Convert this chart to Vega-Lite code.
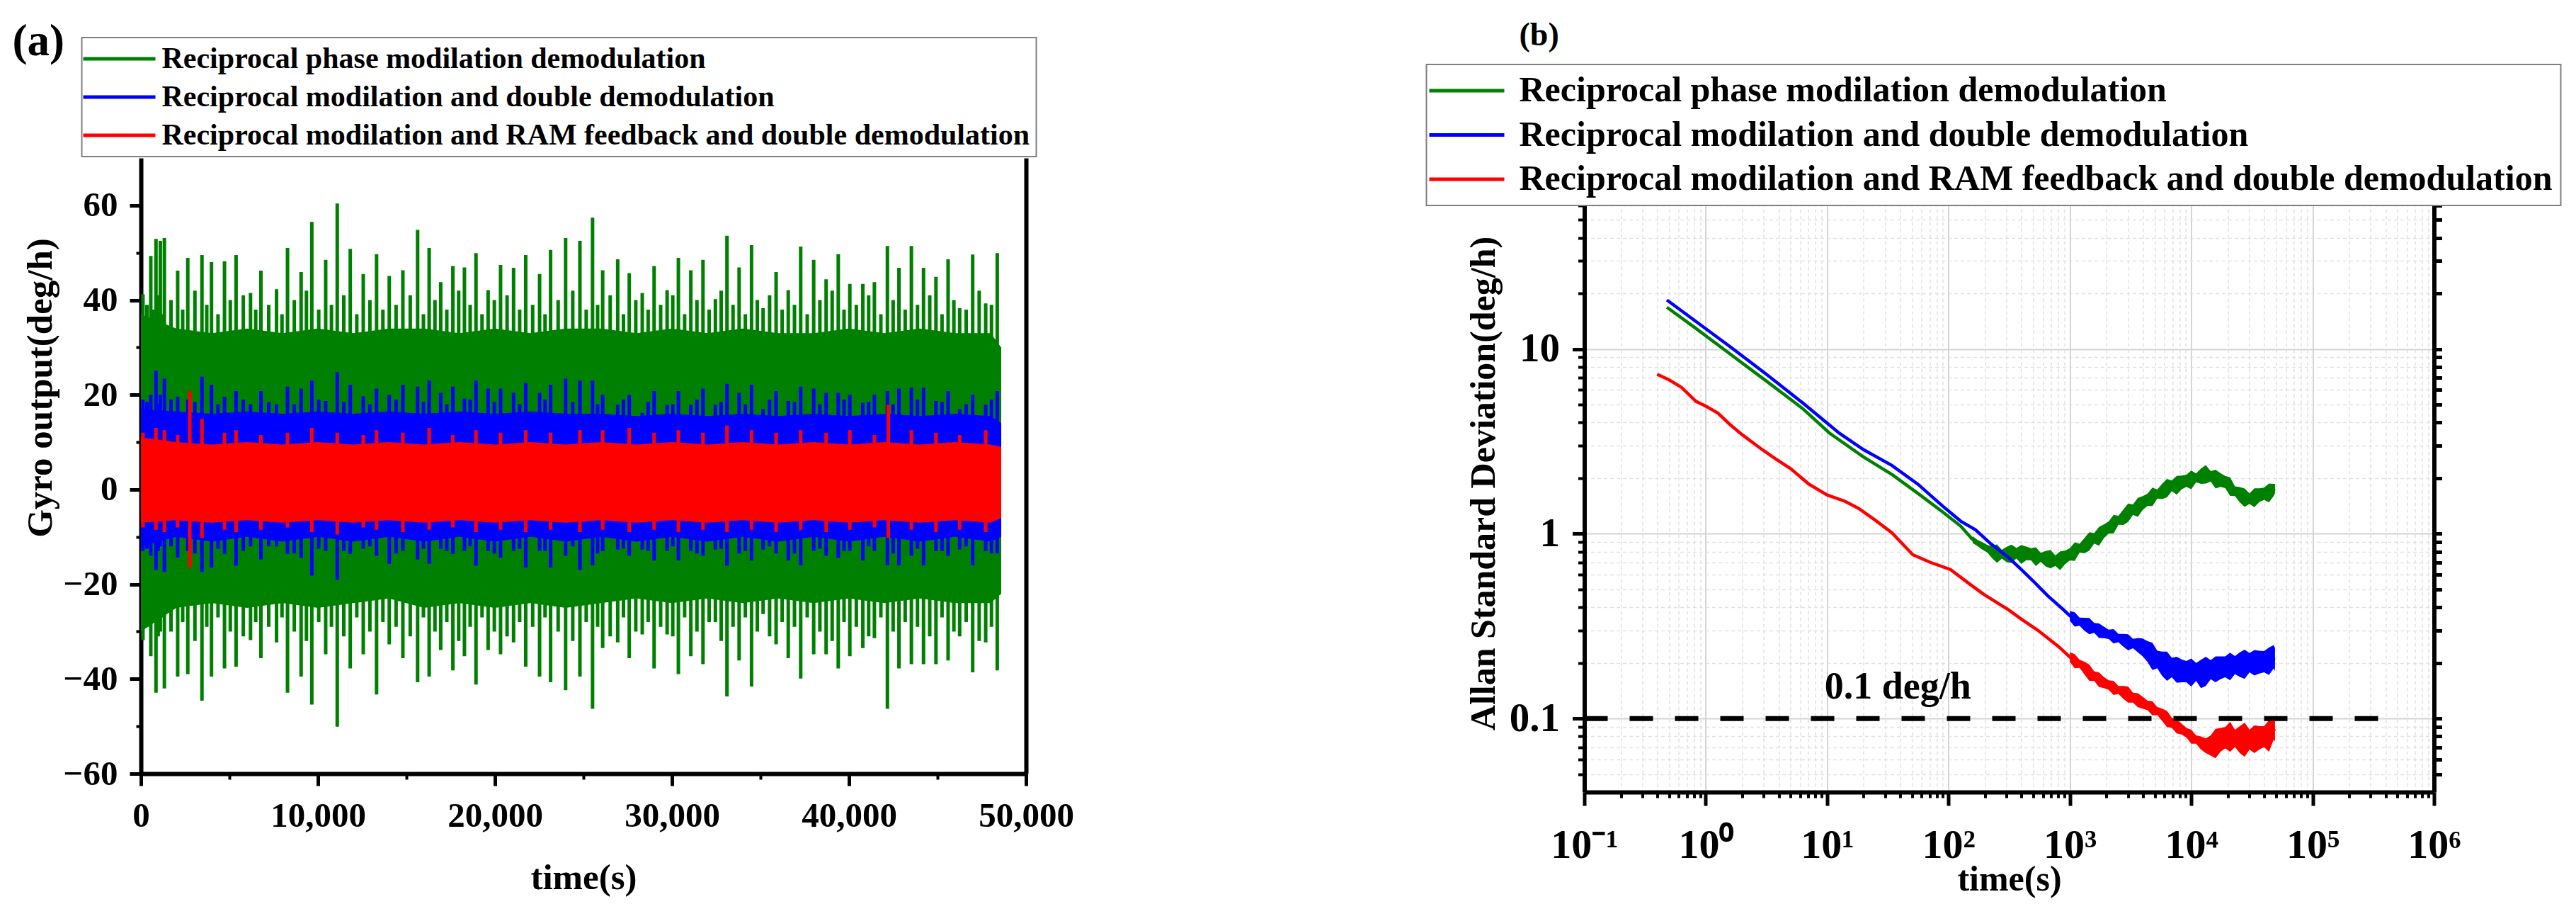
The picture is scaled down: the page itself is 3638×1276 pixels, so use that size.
{
  "$schema": "https://vega.github.io/schema/vega-lite/v6.json",
  "background": "white",
  "padding": {"left": 17, "top": 27, "right": 5, "bottom": 5},
  "bounds": "flush",
  "spacing": 788.5,
  "config": {
    "view": {"stroke": null},
    "font": "Liberation Serif",
    "axis": {
      "labelFont": "Liberation Serif", "labelFontWeight": "bold", "labelColor": "black",
      "titleFont": "Liberation Serif", "titleFontWeight": "bold", "titleColor": "black",
      "domainColor": "black", "domainWidth": 6, "tickColor": "black",
      "grid": false, "labelFlush": false, "labelOverlap": false
    },
    "legend": {
      "labelFont": "Liberation Serif", "labelFontWeight": "bold", "labelColor": "black",
      "labelLimit": 3000, "strokeColor": "#7f7f7f", "strokeWidth": 2, "fillColor": "white",
      "symbolStrokeWidth": 5, "symbolSize": 400
    },
    "title": {
      "font": "Liberation Serif", "fontWeight": "bold", "color": "black",
      "anchor": "start", "frame": "group", "offset": 0, "baseline": "alphabetic"
    }
  },
  "resolve": {"scale": {"stroke": "independent"}, "legend": {"stroke": "independent"}},
  "datasets": {
    "core": [
      {"s": "phase", "t": 0, "lo": -30, "hi": 37},
      {"s": "phase", "t": 2000, "lo": -25, "hi": 34},
      {"s": "phase", "t": 4000, "lo": -24, "hi": 33},
      {"s": "phase", "t": 6000, "lo": -25, "hi": 34},
      {"s": "phase", "t": 8000, "lo": -24, "hi": 33},
      {"s": "phase", "t": 10000, "lo": -25, "hi": 34},
      {"s": "phase", "t": 12000, "lo": -24, "hi": 33},
      {"s": "phase", "t": 14000, "lo": -23, "hi": 34},
      {"s": "phase", "t": 16000, "lo": -25, "hi": 34},
      {"s": "phase", "t": 18000, "lo": -24, "hi": 33},
      {"s": "phase", "t": 20000, "lo": -25, "hi": 34},
      {"s": "phase", "t": 22000, "lo": -24, "hi": 33},
      {"s": "phase", "t": 24000, "lo": -25, "hi": 34},
      {"s": "phase", "t": 26000, "lo": -24, "hi": 34},
      {"s": "phase", "t": 28000, "lo": -23, "hi": 33},
      {"s": "phase", "t": 30000, "lo": -24, "hi": 34},
      {"s": "phase", "t": 32000, "lo": -23, "hi": 33},
      {"s": "phase", "t": 34000, "lo": -24, "hi": 34},
      {"s": "phase", "t": 36000, "lo": -23, "hi": 33},
      {"s": "phase", "t": 38000, "lo": -24, "hi": 33},
      {"s": "phase", "t": 40000, "lo": -23, "hi": 34},
      {"s": "phase", "t": 42000, "lo": -24, "hi": 33},
      {"s": "phase", "t": 44000, "lo": -23, "hi": 34},
      {"s": "phase", "t": 46000, "lo": -24, "hi": 33},
      {"s": "phase", "t": 48000, "lo": -24, "hi": 33},
      {"s": "phase", "t": 48600, "lo": -22, "hi": 30},
      {"s": "double", "t": 0, "lo": -12, "hi": 17},
      {"s": "double", "t": 2000, "lo": -10, "hi": 16.5},
      {"s": "double", "t": 4000, "lo": -11, "hi": 16},
      {"s": "double", "t": 6000, "lo": -10, "hi": 16.5},
      {"s": "double", "t": 8000, "lo": -11, "hi": 16},
      {"s": "double", "t": 10000, "lo": -10, "hi": 16.5},
      {"s": "double", "t": 12000, "lo": -11, "hi": 16},
      {"s": "double", "t": 14000, "lo": -10, "hi": 16.5},
      {"s": "double", "t": 16000, "lo": -11, "hi": 16},
      {"s": "double", "t": 18000, "lo": -10, "hi": 16.5},
      {"s": "double", "t": 20000, "lo": -11, "hi": 16},
      {"s": "double", "t": 22000, "lo": -10, "hi": 16.5},
      {"s": "double", "t": 24000, "lo": -11, "hi": 16},
      {"s": "double", "t": 26000, "lo": -10, "hi": 16},
      {"s": "double", "t": 28000, "lo": -11, "hi": 15.5},
      {"s": "double", "t": 30000, "lo": -10, "hi": 16},
      {"s": "double", "t": 32000, "lo": -11, "hi": 15.5},
      {"s": "double", "t": 34000, "lo": -10, "hi": 16},
      {"s": "double", "t": 36000, "lo": -11, "hi": 15.5},
      {"s": "double", "t": 38000, "lo": -10, "hi": 16},
      {"s": "double", "t": 40000, "lo": -11, "hi": 15.5},
      {"s": "double", "t": 42000, "lo": -10, "hi": 16},
      {"s": "double", "t": 44000, "lo": -11, "hi": 15.5},
      {"s": "double", "t": 46000, "lo": -10, "hi": 16},
      {"s": "double", "t": 48000, "lo": -11, "hi": 15.5},
      {"s": "double", "t": 48600, "lo": -10, "hi": 14},
      {"s": "ram", "t": 0, "lo": -7, "hi": 11},
      {"s": "ram", "t": 2000, "lo": -6.5, "hi": 10},
      {"s": "ram", "t": 4000, "lo": -7, "hi": 9.5},
      {"s": "ram", "t": 6000, "lo": -6.5, "hi": 10},
      {"s": "ram", "t": 8000, "lo": -7, "hi": 9.5},
      {"s": "ram", "t": 10000, "lo": -6.5, "hi": 10},
      {"s": "ram", "t": 12000, "lo": -7, "hi": 9.5},
      {"s": "ram", "t": 14000, "lo": -6.5, "hi": 10},
      {"s": "ram", "t": 16000, "lo": -7, "hi": 9.5},
      {"s": "ram", "t": 18000, "lo": -6.5, "hi": 10},
      {"s": "ram", "t": 20000, "lo": -7, "hi": 9.5},
      {"s": "ram", "t": 22000, "lo": -6.5, "hi": 10},
      {"s": "ram", "t": 24000, "lo": -7, "hi": 9.5},
      {"s": "ram", "t": 26000, "lo": -6.5, "hi": 10},
      {"s": "ram", "t": 28000, "lo": -7, "hi": 9.5},
      {"s": "ram", "t": 30000, "lo": -6.5, "hi": 10},
      {"s": "ram", "t": 32000, "lo": -7, "hi": 9.5},
      {"s": "ram", "t": 34000, "lo": -6.5, "hi": 10},
      {"s": "ram", "t": 36000, "lo": -7, "hi": 9.5},
      {"s": "ram", "t": 38000, "lo": -6.5, "hi": 10},
      {"s": "ram", "t": 40000, "lo": -7, "hi": 9.5},
      {"s": "ram", "t": 42000, "lo": -6.5, "hi": 10},
      {"s": "ram", "t": 44000, "lo": -7, "hi": 9.5},
      {"s": "ram", "t": 46000, "lo": -6.5, "hi": 10},
      {"s": "ram", "t": 48000, "lo": -7, "hi": 9.5},
      {"s": "ram", "t": 48600, "lo": -6, "hi": 9}
    ],
    "spikes": [
      {"s": "phase", "t": 117, "lo": -31.8, "hi": 41.2},
      {"s": "phase", "t": 558, "lo": -35.2, "hi": 49.3},
      {"s": "phase", "t": 852, "lo": -42.9, "hi": 52.9},
      {"s": "phase", "t": 1097, "lo": -30, "hi": 52.5},
      {"s": "phase", "t": 1326, "lo": -42, "hi": 53.1},
      {"s": "phase", "t": 2077, "lo": -39.5, "hi": 46.2},
      {"s": "phase", "t": 2648, "lo": -39, "hi": 48.9},
      {"s": "phase", "t": 3449, "lo": -44.6, "hi": 49.5},
      {"s": "phase", "t": 3987, "lo": -39.5, "hi": 48},
      {"s": "phase", "t": 4722, "lo": -37.8, "hi": 48.2},
      {"s": "phase", "t": 5376, "lo": -37.4, "hi": 49.5},
      {"s": "phase", "t": 6192, "lo": -31.8, "hi": 41.5},
      {"s": "phase", "t": 6780, "lo": -35.6, "hi": 46.2},
      {"s": "phase", "t": 7662, "lo": -32.3, "hi": 42.3},
      {"s": "phase", "t": 8282, "lo": -42.9, "hi": 51},
      {"s": "phase", "t": 9050, "lo": -39.5, "hi": 45.9},
      {"s": "phase", "t": 9654, "lo": -45.4, "hi": 56.5},
      {"s": "phase", "t": 10438, "lo": -34.8, "hi": 48.5},
      {"s": "phase", "t": 11091, "lo": -50.1, "hi": 60.4},
      {"s": "phase", "t": 11826, "lo": -37.8, "hi": 50.8},
      {"s": "phase", "t": 12561, "lo": -34.8, "hi": 45.5},
      {"s": "phase", "t": 13312, "lo": -43.3, "hi": 49.7},
      {"s": "phase", "t": 14030, "lo": -32.7, "hi": 45.1},
      {"s": "phase", "t": 14798, "lo": -35.6, "hi": 46.3},
      {"s": "phase", "t": 15631, "lo": -40.7, "hi": 54.8},
      {"s": "phase", "t": 16284, "lo": -39.5, "hi": 51},
      {"s": "phase", "t": 16937, "lo": -33.9, "hi": 43.8},
      {"s": "phase", "t": 17623, "lo": -38.2, "hi": 47.2},
      {"s": "phase", "t": 18276, "lo": -35.2, "hi": 46.9},
      {"s": "phase", "t": 18929, "lo": -41.2, "hi": 49.9},
      {"s": "phase", "t": 19615, "lo": -33.9, "hi": 42.1},
      {"s": "phase", "t": 20317, "lo": -34.8, "hi": 47.4},
      {"s": "phase", "t": 21052, "lo": -32.3, "hi": 46.8},
      {"s": "phase", "t": 21738, "lo": -37.4, "hi": 49.5},
      {"s": "phase", "t": 22522, "lo": -39.5, "hi": 45.5},
      {"s": "phase", "t": 23143, "lo": -40.7, "hi": 50.6},
      {"s": "phase", "t": 23992, "lo": -42.4, "hi": 53.1},
      {"s": "phase", "t": 24800, "lo": -39.5, "hi": 52.5},
      {"s": "phase", "t": 25513, "lo": -46.3, "hi": 57.4},
      {"s": "phase", "t": 26085, "lo": -33.5, "hi": 46.3},
      {"s": "phase", "t": 26934, "lo": -32.3, "hi": 48.6},
      {"s": "phase", "t": 27587, "lo": -35.6, "hi": 45.7},
      {"s": "phase", "t": 28322, "lo": -30.6, "hi": 41.5},
      {"s": "phase", "t": 28991, "lo": -37.8, "hi": 47.2},
      {"s": "phase", "t": 29726, "lo": -30.6, "hi": 42.1},
      {"s": "phase", "t": 30363, "lo": -39, "hi": 48.9},
      {"s": "phase", "t": 31065, "lo": -35.2, "hi": 46.3},
      {"s": "phase", "t": 31751, "lo": -36.9, "hi": 48.5},
      {"s": "phase", "t": 32453, "lo": -28, "hi": 40.2},
      {"s": "phase", "t": 33107, "lo": -43.7, "hi": 53.6},
      {"s": "phase", "t": 33793, "lo": -36.1, "hi": 46.9},
      {"s": "phase", "t": 34495, "lo": -41.6, "hi": 51.6},
      {"s": "phase", "t": 35148, "lo": -26.3, "hi": 38.3},
      {"s": "phase", "t": 35883, "lo": -32.7, "hi": 45.9},
      {"s": "phase", "t": 36569, "lo": -35.6, "hi": 42.1},
      {"s": "phase", "t": 37271, "lo": -39.9, "hi": 51.3},
      {"s": "phase", "t": 38006, "lo": -34.8, "hi": 48.5},
      {"s": "phase", "t": 38708, "lo": -34.8, "hi": 44.4},
      {"s": "phase", "t": 39394, "lo": -37.8, "hi": 49.7},
      {"s": "phase", "t": 40047, "lo": -35.2, "hi": 43.4},
      {"s": "phase", "t": 40782, "lo": -33.5, "hi": 43.4},
      {"s": "phase", "t": 41435, "lo": -31.4, "hi": 43.8},
      {"s": "phase", "t": 42170, "lo": -46.3, "hi": 51.4},
      {"s": "phase", "t": 42823, "lo": -37.8, "hi": 46.8},
      {"s": "phase", "t": 43525, "lo": -36.9, "hi": 51.4},
      {"s": "phase", "t": 44211, "lo": -36.9, "hi": 46.8},
      {"s": "phase", "t": 44913, "lo": -36.9, "hi": 44.9},
      {"s": "phase", "t": 45599, "lo": -36.1, "hi": 48.6},
      {"s": "phase", "t": 46252, "lo": -31, "hi": 38.3},
      {"s": "phase", "t": 46987, "lo": -38.6, "hi": 49.6},
      {"s": "phase", "t": 47722, "lo": -32.3, "hi": 39.3},
      {"s": "phase", "t": 48375, "lo": -38.2, "hi": 49.9},
      {"s": "phase", "t": 340, "lo": -29, "hi": 39},
      {"s": "phase", "t": 705, "lo": -28, "hi": 38},
      {"s": "phase", "t": 975, "lo": -31, "hi": 41},
      {"s": "phase", "t": 1210, "lo": -27, "hi": 37},
      {"s": "phase", "t": 1700, "lo": -30, "hi": 40},
      {"s": "phase", "t": 2360, "lo": -28, "hi": 38},
      {"s": "phase", "t": 3050, "lo": -32, "hi": 42},
      {"s": "phase", "t": 3720, "lo": -29, "hi": 39},
      {"s": "phase", "t": 4355, "lo": -27, "hi": 37},
      {"s": "phase", "t": 5050, "lo": -30, "hi": 40},
      {"s": "phase", "t": 5785, "lo": -31, "hi": 41},
      {"s": "phase", "t": 6485, "lo": -28, "hi": 38},
      {"s": "phase", "t": 7220, "lo": -29, "hi": 39},
      {"s": "phase", "t": 7970, "lo": -27, "hi": 37},
      {"s": "phase", "t": 8665, "lo": -30, "hi": 40},
      {"s": "phase", "t": 9350, "lo": -32, "hi": 42},
      {"s": "phase", "t": 10045, "lo": -28, "hi": 38},
      {"s": "phase", "t": 10765, "lo": -29, "hi": 39},
      {"s": "phase", "t": 11460, "lo": -31, "hi": 41},
      {"s": "phase", "t": 12195, "lo": -27, "hi": 37},
      {"s": "phase", "t": 12935, "lo": -30, "hi": 40},
      {"s": "phase", "t": 13670, "lo": -28, "hi": 38},
      {"s": "phase", "t": 14415, "lo": -29, "hi": 39},
      {"s": "phase", "t": 15215, "lo": -31, "hi": 41},
      {"s": "phase", "t": 15960, "lo": -27, "hi": 37},
      {"s": "phase", "t": 16610, "lo": -30, "hi": 40},
      {"s": "phase", "t": 17280, "lo": -28, "hi": 38},
      {"s": "phase", "t": 17950, "lo": -32, "hi": 42},
      {"s": "phase", "t": 18600, "lo": -29, "hi": 39},
      {"s": "phase", "t": 19270, "lo": -27, "hi": 37},
      {"s": "phase", "t": 19965, "lo": -30, "hi": 40},
      {"s": "phase", "t": 20685, "lo": -31, "hi": 41},
      {"s": "phase", "t": 21395, "lo": -28, "hi": 38},
      {"s": "phase", "t": 22130, "lo": -29, "hi": 39},
      {"s": "phase", "t": 22830, "lo": -27, "hi": 37},
      {"s": "phase", "t": 23570, "lo": -30, "hi": 40},
      {"s": "phase", "t": 24395, "lo": -32, "hi": 42},
      {"s": "phase", "t": 25155, "lo": -28, "hi": 38},
      {"s": "phase", "t": 25800, "lo": -29, "hi": 39},
      {"s": "phase", "t": 26510, "lo": -31, "hi": 41},
      {"s": "phase", "t": 27260, "lo": -27, "hi": 37},
      {"s": "phase", "t": 27955, "lo": -30, "hi": 40},
      {"s": "phase", "t": 28655, "lo": -28, "hi": 38},
      {"s": "phase", "t": 29360, "lo": -29, "hi": 39},
      {"s": "phase", "t": 30045, "lo": -31, "hi": 41},
      {"s": "phase", "t": 30715, "lo": -27, "hi": 37},
      {"s": "phase", "t": 31410, "lo": -30, "hi": 40},
      {"s": "phase", "t": 32100, "lo": -28, "hi": 38},
      {"s": "phase", "t": 32780, "lo": -32, "hi": 42},
      {"s": "phase", "t": 33450, "lo": -29, "hi": 39},
      {"s": "phase", "t": 34145, "lo": -27, "hi": 37},
      {"s": "phase", "t": 34820, "lo": -30, "hi": 40},
      {"s": "phase", "t": 35515, "lo": -31, "hi": 41},
      {"s": "phase", "t": 36225, "lo": -28, "hi": 38},
      {"s": "phase", "t": 36920, "lo": -29, "hi": 39},
      {"s": "phase", "t": 37640, "lo": -27, "hi": 37},
      {"s": "phase", "t": 38355, "lo": -30, "hi": 40},
      {"s": "phase", "t": 39050, "lo": -32, "hi": 42},
      {"s": "phase", "t": 39720, "lo": -28, "hi": 38},
      {"s": "phase", "t": 40415, "lo": -29, "hi": 39},
      {"s": "phase", "t": 41110, "lo": -31, "hi": 41},
      {"s": "phase", "t": 41800, "lo": -27, "hi": 37},
      {"s": "phase", "t": 42495, "lo": -30, "hi": 40},
      {"s": "phase", "t": 43175, "lo": -28, "hi": 38},
      {"s": "phase", "t": 43870, "lo": -29, "hi": 39},
      {"s": "phase", "t": 44560, "lo": -31, "hi": 41},
      {"s": "phase", "t": 45255, "lo": -27, "hi": 37},
      {"s": "phase", "t": 45925, "lo": -30, "hi": 40},
      {"s": "phase", "t": 46620, "lo": -28, "hi": 38},
      {"s": "phase", "t": 47355, "lo": -32, "hi": 42},
      {"s": "phase", "t": 48050, "lo": -29, "hi": 39},
      {"s": "double", "t": 117, "lo": -13, "hi": 19},
      {"s": "double", "t": 558, "lo": -14, "hi": 20},
      {"s": "double", "t": 852, "lo": -17, "hi": 25.1},
      {"s": "double", "t": 1097, "lo": -12, "hi": 20},
      {"s": "double", "t": 1326, "lo": -17.4, "hi": 23.4},
      {"s": "double", "t": 2077, "lo": -14.4, "hi": 19.6},
      {"s": "double", "t": 2648, "lo": -13, "hi": 19},
      {"s": "double", "t": 3449, "lo": -17.4, "hi": 23.8},
      {"s": "double", "t": 3987, "lo": -16.5, "hi": 22.1},
      {"s": "double", "t": 4722, "lo": -13.6, "hi": 19.6},
      {"s": "double", "t": 5376, "lo": -16.1, "hi": 20.8},
      {"s": "double", "t": 6192, "lo": -12, "hi": 18},
      {"s": "double", "t": 6780, "lo": -14.8, "hi": 20.8},
      {"s": "double", "t": 7662, "lo": -12, "hi": 18},
      {"s": "double", "t": 8282, "lo": -13.6, "hi": 21.7},
      {"s": "double", "t": 9050, "lo": -14.4, "hi": 21.3},
      {"s": "double", "t": 9654, "lo": -18.2, "hi": 23},
      {"s": "double", "t": 10438, "lo": -13, "hi": 18.7},
      {"s": "double", "t": 11091, "lo": -19.1, "hi": 24.8},
      {"s": "double", "t": 11826, "lo": -13.6, "hi": 22.1},
      {"s": "double", "t": 12561, "lo": -12.5, "hi": 19.7},
      {"s": "double", "t": 13312, "lo": -14, "hi": 21.3},
      {"s": "double", "t": 14030, "lo": -15.7, "hi": 20},
      {"s": "double", "t": 14798, "lo": -13, "hi": 22.1},
      {"s": "double", "t": 15631, "lo": -14.8, "hi": 21.7},
      {"s": "double", "t": 16284, "lo": -15.7, "hi": 23},
      {"s": "double", "t": 16937, "lo": -12.5, "hi": 20.4},
      {"s": "double", "t": 17623, "lo": -13.6, "hi": 21.7},
      {"s": "double", "t": 18276, "lo": -13, "hi": 19.2},
      {"s": "double", "t": 18929, "lo": -16.1, "hi": 23},
      {"s": "double", "t": 19615, "lo": -13, "hi": 21.3},
      {"s": "double", "t": 20317, "lo": -14.4, "hi": 21.3},
      {"s": "double", "t": 21052, "lo": -13, "hi": 20.4},
      {"s": "double", "t": 21738, "lo": -16.5, "hi": 22.5},
      {"s": "double", "t": 22522, "lo": -13, "hi": 20.4},
      {"s": "double", "t": 23143, "lo": -16.5, "hi": 22.1},
      {"s": "double", "t": 23992, "lo": -14, "hi": 23.4},
      {"s": "double", "t": 24800, "lo": -17, "hi": 23},
      {"s": "double", "t": 25513, "lo": -16, "hi": 23},
      {"s": "double", "t": 26085, "lo": -13, "hi": 20},
      {"s": "double", "t": 26934, "lo": -12.7, "hi": 17.9},
      {"s": "double", "t": 27587, "lo": -14, "hi": 20},
      {"s": "double", "t": 28322, "lo": -12.7, "hi": 16.2},
      {"s": "double", "t": 28991, "lo": -15, "hi": 20.8},
      {"s": "double", "t": 29726, "lo": -13, "hi": 17.9},
      {"s": "double", "t": 30363, "lo": -15, "hi": 20.8},
      {"s": "double", "t": 31065, "lo": -13, "hi": 17.9},
      {"s": "double", "t": 31751, "lo": -14, "hi": 21.3},
      {"s": "double", "t": 32453, "lo": -12.7, "hi": 17.9},
      {"s": "double", "t": 33107, "lo": -16.1, "hi": 22.3},
      {"s": "double", "t": 33793, "lo": -13.5, "hi": 20.4},
      {"s": "double", "t": 34495, "lo": -15, "hi": 22.1},
      {"s": "double", "t": 35148, "lo": -12.7, "hi": 17},
      {"s": "double", "t": 35883, "lo": -13.5, "hi": 20.8},
      {"s": "double", "t": 36569, "lo": -15, "hi": 18.7},
      {"s": "double", "t": 37271, "lo": -16, "hi": 21.7},
      {"s": "double", "t": 38006, "lo": -13, "hi": 21.3},
      {"s": "double", "t": 38708, "lo": -14, "hi": 20.4},
      {"s": "double", "t": 39394, "lo": -14.5, "hi": 20.4},
      {"s": "double", "t": 40047, "lo": -13, "hi": 20},
      {"s": "double", "t": 40782, "lo": -15, "hi": 18.3},
      {"s": "double", "t": 41435, "lo": -13, "hi": 20},
      {"s": "double", "t": 42170, "lo": -16, "hi": 20.8},
      {"s": "double", "t": 42823, "lo": -16, "hi": 21.3},
      {"s": "double", "t": 43525, "lo": -14, "hi": 21.5},
      {"s": "double", "t": 44211, "lo": -16, "hi": 21.5},
      {"s": "double", "t": 44913, "lo": -13, "hi": 18.7},
      {"s": "double", "t": 45599, "lo": -14, "hi": 20.8},
      {"s": "double", "t": 46252, "lo": -12.7, "hi": 17},
      {"s": "double", "t": 46987, "lo": -16, "hi": 20},
      {"s": "double", "t": 47722, "lo": -13, "hi": 17.9},
      {"s": "double", "t": 48375, "lo": -13.5, "hi": 20.8},
      {"s": "double", "t": 340, "lo": -12.5, "hi": 18.5},
      {"s": "double", "t": 975, "lo": -13, "hi": 18},
      {"s": "double", "t": 1700, "lo": -12, "hi": 19},
      {"s": "double", "t": 3050, "lo": -13.5, "hi": 18.5},
      {"s": "double", "t": 4355, "lo": -12.5, "hi": 18},
      {"s": "double", "t": 5785, "lo": -13, "hi": 19},
      {"s": "double", "t": 7220, "lo": -12, "hi": 18.5},
      {"s": "double", "t": 8665, "lo": -13.5, "hi": 18},
      {"s": "double", "t": 10045, "lo": -12.5, "hi": 19},
      {"s": "double", "t": 11460, "lo": -13, "hi": 18.5},
      {"s": "double", "t": 12935, "lo": -12, "hi": 18},
      {"s": "double", "t": 14415, "lo": -13.5, "hi": 19},
      {"s": "double", "t": 15960, "lo": -12.5, "hi": 18.5},
      {"s": "double", "t": 17280, "lo": -13, "hi": 18},
      {"s": "double", "t": 18600, "lo": -12, "hi": 19},
      {"s": "double", "t": 19965, "lo": -13.5, "hi": 18.5},
      {"s": "double", "t": 21395, "lo": -12.5, "hi": 18},
      {"s": "double", "t": 22830, "lo": -13, "hi": 19},
      {"s": "double", "t": 24395, "lo": -12, "hi": 18.5},
      {"s": "double", "t": 25800, "lo": -13.5, "hi": 18},
      {"s": "double", "t": 27260, "lo": -12.5, "hi": 19},
      {"s": "double", "t": 28655, "lo": -13, "hi": 18.5},
      {"s": "double", "t": 30045, "lo": -12, "hi": 18},
      {"s": "double", "t": 31410, "lo": -13.5, "hi": 19},
      {"s": "double", "t": 32780, "lo": -12.5, "hi": 18.5},
      {"s": "double", "t": 34145, "lo": -13, "hi": 18},
      {"s": "double", "t": 35515, "lo": -12, "hi": 19},
      {"s": "double", "t": 36920, "lo": -13.5, "hi": 18.5},
      {"s": "double", "t": 38355, "lo": -12.5, "hi": 18},
      {"s": "double", "t": 39720, "lo": -13, "hi": 19},
      {"s": "double", "t": 41110, "lo": -12, "hi": 18.5},
      {"s": "double", "t": 42495, "lo": -13.5, "hi": 18},
      {"s": "double", "t": 43870, "lo": -12.5, "hi": 19},
      {"s": "double", "t": 45255, "lo": -13, "hi": 18.5},
      {"s": "double", "t": 46620, "lo": -12, "hi": 18},
      {"s": "double", "t": 48050, "lo": -13.5, "hi": 19},
      {"s": "ram", "t": 117, "lo": -8, "hi": 12},
      {"s": "ram", "t": 852, "lo": -8.5, "hi": 13},
      {"s": "ram", "t": 1326, "lo": -9, "hi": 12.5},
      {"s": "ram", "t": 2077, "lo": -8, "hi": 11.5},
      {"s": "ram", "t": 2763, "lo": -16.5, "hi": 20.8},
      {"s": "ram", "t": 3449, "lo": -10.2, "hi": 14.9},
      {"s": "ram", "t": 4722, "lo": -8.5, "hi": 12},
      {"s": "ram", "t": 5376, "lo": -9, "hi": 12.5},
      {"s": "ram", "t": 6780, "lo": -8.5, "hi": 11.5},
      {"s": "ram", "t": 8282, "lo": -8, "hi": 12},
      {"s": "ram", "t": 9654, "lo": -9, "hi": 13},
      {"s": "ram", "t": 11091, "lo": -9.5, "hi": 12},
      {"s": "ram", "t": 12561, "lo": -8, "hi": 11.5},
      {"s": "ram", "t": 13312, "lo": -8.5, "hi": 12.5},
      {"s": "ram", "t": 14798, "lo": -9, "hi": 12},
      {"s": "ram", "t": 16284, "lo": -8.5, "hi": 13},
      {"s": "ram", "t": 17623, "lo": -8, "hi": 11.5},
      {"s": "ram", "t": 18929, "lo": -9, "hi": 12.5},
      {"s": "ram", "t": 20317, "lo": -8.5, "hi": 12},
      {"s": "ram", "t": 21738, "lo": -9, "hi": 12.5},
      {"s": "ram", "t": 23143, "lo": -8.5, "hi": 12},
      {"s": "ram", "t": 24800, "lo": -9, "hi": 12.5},
      {"s": "ram", "t": 26085, "lo": -8.5, "hi": 12.5},
      {"s": "ram", "t": 27587, "lo": -9, "hi": 13},
      {"s": "ram", "t": 28991, "lo": -8.5, "hi": 12},
      {"s": "ram", "t": 30363, "lo": -9, "hi": 12.5},
      {"s": "ram", "t": 31751, "lo": -8.5, "hi": 12},
      {"s": "ram", "t": 33107, "lo": -9, "hi": 13.5},
      {"s": "ram", "t": 34495, "lo": -8.5, "hi": 12.5},
      {"s": "ram", "t": 35883, "lo": -9, "hi": 12},
      {"s": "ram", "t": 37271, "lo": -8.5, "hi": 12.5},
      {"s": "ram", "t": 38708, "lo": -9, "hi": 12},
      {"s": "ram", "t": 40047, "lo": -8.5, "hi": 12.5},
      {"s": "ram", "t": 41435, "lo": -8, "hi": 11.5},
      {"s": "ram", "t": 42220, "lo": -10.2, "hi": 17.9},
      {"s": "ram", "t": 43525, "lo": -8.5, "hi": 12.5},
      {"s": "ram", "t": 44913, "lo": -9, "hi": 12},
      {"s": "ram", "t": 46252, "lo": -8.5, "hi": 11.5},
      {"s": "ram", "t": 47722, "lo": -9, "hi": 12.5}
    ],
    "allan": [
      {"s": "phase", "t": 0.479, "v": 16.8},
      {"s": "phase", "t": 0.794, "v": 13.2},
      {"s": "phase", "t": 1.585, "v": 9.4},
      {"s": "phase", "t": 3.16, "v": 6.7},
      {"s": "phase", "t": 6.31, "v": 4.75},
      {"s": "phase", "t": 10.5, "v": 3.5},
      {"s": "phase", "t": 20, "v": 2.6},
      {"s": "phase", "t": 34.3, "v": 2.09},
      {"s": "phase", "t": 56.2, "v": 1.65},
      {"s": "phase", "t": 88.5, "v": 1.32},
      {"s": "phase", "t": 126, "v": 1.1},
      {"s": "phase", "t": 158, "v": 0.93},
      {"s": "phase", "t": 190, "v": 0.86},
      {"s": "phase", "t": 229, "v": 0.8},
      {"s": "phase", "t": 275, "v": 0.78},
      {"s": "phase", "t": 331, "v": 0.78},
      {"s": "phase", "t": 398, "v": 0.79},
      {"s": "phase", "t": 479, "v": 0.78},
      {"s": "phase", "t": 575, "v": 0.75},
      {"s": "phase", "t": 692, "v": 0.73},
      {"s": "phase", "t": 832, "v": 0.73},
      {"s": "phase", "t": 1000, "v": 0.78},
      {"s": "phase", "t": 1202, "v": 0.84},
      {"s": "phase", "t": 1445, "v": 0.91},
      {"s": "phase", "t": 1738, "v": 0.99},
      {"s": "phase", "t": 2089, "v": 1.09},
      {"s": "phase", "t": 2512, "v": 1.19},
      {"s": "phase", "t": 3020, "v": 1.3},
      {"s": "phase", "t": 3631, "v": 1.42},
      {"s": "phase", "t": 4365, "v": 1.54},
      {"s": "phase", "t": 5248, "v": 1.65},
      {"s": "phase", "t": 6310, "v": 1.77},
      {"s": "phase", "t": 7586, "v": 1.87},
      {"s": "phase", "t": 9120, "v": 1.95},
      {"s": "phase", "t": 10965, "v": 2.02},
      {"s": "phase", "t": 13183, "v": 2.1},
      {"s": "phase", "t": 15849, "v": 2.02},
      {"s": "phase", "t": 19055, "v": 1.92},
      {"s": "phase", "t": 22909, "v": 1.72},
      {"s": "phase", "t": 27542, "v": 1.57},
      {"s": "phase", "t": 33113, "v": 1.6},
      {"s": "phase", "t": 39811, "v": 1.66},
      {"s": "phase", "t": 48978, "v": 1.76},
      {"s": "double", "t": 0.479, "v": 18.4},
      {"s": "double", "t": 0.794, "v": 14.4},
      {"s": "double", "t": 1.585, "v": 10.3},
      {"s": "double", "t": 3.16, "v": 7.3},
      {"s": "double", "t": 6.31, "v": 5.1},
      {"s": "double", "t": 12.6, "v": 3.5},
      {"s": "double", "t": 20, "v": 2.85},
      {"s": "double", "t": 34.3, "v": 2.34},
      {"s": "double", "t": 56.2, "v": 1.85},
      {"s": "double", "t": 88.5, "v": 1.42},
      {"s": "double", "t": 126, "v": 1.17},
      {"s": "double", "t": 167, "v": 1.05},
      {"s": "double", "t": 224, "v": 0.88},
      {"s": "double", "t": 313, "v": 0.743},
      {"s": "double", "t": 398, "v": 0.64},
      {"s": "double", "t": 505, "v": 0.55},
      {"s": "double", "t": 661, "v": 0.46},
      {"s": "double", "t": 877, "v": 0.39},
      {"s": "double", "t": 1000, "v": 0.36},
      {"s": "double", "t": 1202, "v": 0.335},
      {"s": "double", "t": 1445, "v": 0.318},
      {"s": "double", "t": 1738, "v": 0.3},
      {"s": "double", "t": 2089, "v": 0.286},
      {"s": "double", "t": 2512, "v": 0.273},
      {"s": "double", "t": 3020, "v": 0.26},
      {"s": "double", "t": 3631, "v": 0.25},
      {"s": "double", "t": 4365, "v": 0.232},
      {"s": "double", "t": 5248, "v": 0.21},
      {"s": "double", "t": 6310, "v": 0.195},
      {"s": "double", "t": 7586, "v": 0.186},
      {"s": "double", "t": 9120, "v": 0.181},
      {"s": "double", "t": 10965, "v": 0.18},
      {"s": "double", "t": 13183, "v": 0.183},
      {"s": "double", "t": 15849, "v": 0.187},
      {"s": "double", "t": 19055, "v": 0.192},
      {"s": "double", "t": 22909, "v": 0.196},
      {"s": "double", "t": 27542, "v": 0.2},
      {"s": "double", "t": 33113, "v": 0.203},
      {"s": "double", "t": 39811, "v": 0.205},
      {"s": "double", "t": 48978, "v": 0.212},
      {"s": "ram", "t": 0.398, "v": 7.3},
      {"s": "ram", "t": 0.5, "v": 6.8},
      {"s": "ram", "t": 0.631, "v": 6.2},
      {"s": "ram", "t": 0.832, "v": 5.2},
      {"s": "ram", "t": 1, "v": 4.9},
      {"s": "ram", "t": 1.26, "v": 4.5},
      {"s": "ram", "t": 1.585, "v": 3.9},
      {"s": "ram", "t": 1.99, "v": 3.44},
      {"s": "ram", "t": 2.82, "v": 2.9},
      {"s": "ram", "t": 3.74, "v": 2.55},
      {"s": "ram", "t": 5.01, "v": 2.25},
      {"s": "ram", "t": 7.05, "v": 1.86},
      {"s": "ram", "t": 10, "v": 1.62},
      {"s": "ram", "t": 14, "v": 1.5},
      {"s": "ram", "t": 18.2, "v": 1.37},
      {"s": "ram", "t": 25.1, "v": 1.18},
      {"s": "ram", "t": 34.3, "v": 1.01},
      {"s": "ram", "t": 50.8, "v": 0.77},
      {"s": "ram", "t": 70.8, "v": 0.7},
      {"s": "ram", "t": 104, "v": 0.64},
      {"s": "ram", "t": 141, "v": 0.55},
      {"s": "ram", "t": 195, "v": 0.47},
      {"s": "ram", "t": 313, "v": 0.387},
      {"s": "ram", "t": 398, "v": 0.345},
      {"s": "ram", "t": 546, "v": 0.3},
      {"s": "ram", "t": 807, "v": 0.245},
      {"s": "ram", "t": 1000, "v": 0.215},
      {"s": "ram", "t": 1202, "v": 0.198},
      {"s": "ram", "t": 1445, "v": 0.178},
      {"s": "ram", "t": 1738, "v": 0.163},
      {"s": "ram", "t": 2089, "v": 0.152},
      {"s": "ram", "t": 2512, "v": 0.143},
      {"s": "ram", "t": 3020, "v": 0.135},
      {"s": "ram", "t": 3631, "v": 0.126},
      {"s": "ram", "t": 4365, "v": 0.118},
      {"s": "ram", "t": 5248, "v": 0.11},
      {"s": "ram", "t": 6310, "v": 0.1},
      {"s": "ram", "t": 7586, "v": 0.091},
      {"s": "ram", "t": 9120, "v": 0.084},
      {"s": "ram", "t": 10965, "v": 0.077},
      {"s": "ram", "t": 13183, "v": 0.071},
      {"s": "ram", "t": 15849, "v": 0.073},
      {"s": "ram", "t": 19055, "v": 0.078},
      {"s": "ram", "t": 22909, "v": 0.078},
      {"s": "ram", "t": 27542, "v": 0.076},
      {"s": "ram", "t": 33113, "v": 0.077},
      {"s": "ram", "t": 39811, "v": 0.079},
      {"s": "ram", "t": 48978, "v": 0.088}
    ],
    "band": [
      {"s": "phase", "t": 158, "lo": 0.89, "hi": 0.97},
      {"s": "phase", "t": 174, "lo": 0.855, "hi": 0.925},
      {"s": "phase", "t": 190, "lo": 0.82, "hi": 0.9},
      {"s": "phase", "t": 209, "lo": 0.79, "hi": 0.87},
      {"s": "phase", "t": 229, "lo": 0.736, "hi": 0.856},
      {"s": "phase", "t": 251, "lo": 0.695, "hi": 0.877},
      {"s": "phase", "t": 275, "lo": 0.733, "hi": 0.819},
      {"s": "phase", "t": 302, "lo": 0.702, "hi": 0.85},
      {"s": "phase", "t": 331, "lo": 0.694, "hi": 0.874},
      {"s": "phase", "t": 363, "lo": 0.735, "hi": 0.837},
      {"s": "phase", "t": 398, "lo": 0.687, "hi": 0.869},
      {"s": "phase", "t": 437, "lo": 0.719, "hi": 0.853},
      {"s": "phase", "t": 479, "lo": 0.718, "hi": 0.835},
      {"s": "phase", "t": 525, "lo": 0.669, "hi": 0.844},
      {"s": "phase", "t": 575, "lo": 0.705, "hi": 0.788},
      {"s": "phase", "t": 631, "lo": 0.666, "hi": 0.807},
      {"s": "phase", "t": 692, "lo": 0.65, "hi": 0.818},
      {"s": "phase", "t": 759, "lo": 0.67, "hi": 0.763},
      {"s": "phase", "t": 832, "lo": 0.635, "hi": 0.803},
      {"s": "phase", "t": 912, "lo": 0.683, "hi": 0.81},
      {"s": "phase", "t": 1000, "lo": 0.718, "hi": 0.835},
      {"s": "phase", "t": 1096, "lo": 0.713, "hi": 0.899},
      {"s": "phase", "t": 1202, "lo": 0.79, "hi": 0.882},
      {"s": "phase", "t": 1318, "lo": 0.783, "hi": 0.948},
      {"s": "phase", "t": 1445, "lo": 0.81, "hi": 1.019},
      {"s": "phase", "t": 1585, "lo": 0.884, "hi": 1.007},
      {"s": "phase", "t": 1738, "lo": 0.861, "hi": 1.089},
      {"s": "phase", "t": 1905, "lo": 0.946, "hi": 1.123},
      {"s": "phase", "t": 2089, "lo": 1.003, "hi": 1.166},
      {"s": "phase", "t": 2291, "lo": 1.003, "hi": 1.265},
      {"s": "phase", "t": 2512, "lo": 1.119, "hi": 1.25},
      {"s": "phase", "t": 2754, "lo": 1.116, "hi": 1.352},
      {"s": "phase", "t": 3020, "lo": 1.157, "hi": 1.456},
      {"s": "phase", "t": 3311, "lo": 1.265, "hi": 1.442},
      {"s": "phase", "t": 3631, "lo": 1.235, "hi": 1.562},
      {"s": "phase", "t": 3981, "lo": 1.347, "hi": 1.598},
      {"s": "phase", "t": 4365, "lo": 1.417, "hi": 1.648},
      {"s": "phase", "t": 4786, "lo": 1.408, "hi": 1.776},
      {"s": "phase", "t": 5248, "lo": 1.551, "hi": 1.733},
      {"s": "phase", "t": 5754, "lo": 1.539, "hi": 1.864},
      {"s": "phase", "t": 6310, "lo": 1.575, "hi": 1.982},
      {"s": "phase", "t": 6918, "lo": 1.702, "hi": 1.94},
      {"s": "phase", "t": 7586, "lo": 1.627, "hi": 2.057},
      {"s": "phase", "t": 8318, "lo": 1.738, "hi": 2.063},
      {"s": "phase", "t": 9120, "lo": 1.794, "hi": 2.087},
      {"s": "phase", "t": 10000, "lo": 1.742, "hi": 2.198},
      {"s": "phase", "t": 10965, "lo": 1.899, "hi": 2.121},
      {"s": "phase", "t": 12023, "lo": 1.863, "hi": 2.256},
      {"s": "phase", "t": 13183, "lo": 1.869, "hi": 2.352},
      {"s": "phase", "t": 14454, "lo": 1.916, "hi": 2.184},
      {"s": "phase", "t": 15849, "lo": 1.757, "hi": 2.222},
      {"s": "phase", "t": 17378, "lo": 1.793, "hi": 2.128},
      {"s": "phase", "t": 19055, "lo": 1.766, "hi": 2.054},
      {"s": "phase", "t": 20893, "lo": 1.602, "hi": 2.02},
      {"s": "phase", "t": 22909, "lo": 1.6, "hi": 1.806},
      {"s": "phase", "t": 25119, "lo": 1.476, "hi": 1.788},
      {"s": "phase", "t": 27542, "lo": 1.397, "hi": 1.758},
      {"s": "phase", "t": 30200, "lo": 1.451, "hi": 1.654},
      {"s": "phase", "t": 33113, "lo": 1.392, "hi": 1.76},
      {"s": "phase", "t": 36308, "lo": 1.483, "hi": 1.76},
      {"s": "phase", "t": 39811, "lo": 1.527, "hi": 1.776},
      {"s": "phase", "t": 43652, "lo": 1.479, "hi": 1.87},
      {"s": "phase", "t": 47863, "lo": 1.601, "hi": 1.862},
      {"s": "phase", "t": 48978, "lo": 1.66, "hi": 1.86},
      {"s": "double", "t": 1000, "lo": 0.338, "hi": 0.382},
      {"s": "double", "t": 1096, "lo": 0.314, "hi": 0.376},
      {"s": "double", "t": 1202, "lo": 0.318, "hi": 0.352},
      {"s": "double", "t": 1318, "lo": 0.299, "hi": 0.351},
      {"s": "double", "t": 1445, "lo": 0.286, "hi": 0.35},
      {"s": "double", "t": 1585, "lo": 0.291, "hi": 0.329},
      {"s": "double", "t": 1738, "lo": 0.273, "hi": 0.327},
      {"s": "double", "t": 1905, "lo": 0.272, "hi": 0.314},
      {"s": "double", "t": 2089, "lo": 0.269, "hi": 0.303},
      {"s": "double", "t": 2291, "lo": 0.255, "hi": 0.305},
      {"s": "double", "t": 2512, "lo": 0.259, "hi": 0.287},
      {"s": "double", "t": 2754, "lo": 0.245, "hi": 0.287},
      {"s": "double", "t": 3020, "lo": 0.234, "hi": 0.286},
      {"s": "double", "t": 3311, "lo": 0.24, "hi": 0.27},
      {"s": "double", "t": 3631, "lo": 0.228, "hi": 0.273},
      {"s": "double", "t": 3981, "lo": 0.217, "hi": 0.271},
      {"s": "double", "t": 4365, "lo": 0.202, "hi": 0.262},
      {"s": "double", "t": 4786, "lo": 0.183, "hi": 0.257},
      {"s": "double", "t": 5248, "lo": 0.187, "hi": 0.233},
      {"s": "double", "t": 5754, "lo": 0.17, "hi": 0.23},
      {"s": "double", "t": 6310, "lo": 0.16, "hi": 0.23},
      {"s": "double", "t": 6918, "lo": 0.167, "hi": 0.213},
      {"s": "double", "t": 7586, "lo": 0.156, "hi": 0.216},
      {"s": "double", "t": 8318, "lo": 0.157, "hi": 0.209},
      {"s": "double", "t": 9120, "lo": 0.157, "hi": 0.205},
      {"s": "double", "t": 10000, "lo": 0.149, "hi": 0.211},
      {"s": "double", "t": 10965, "lo": 0.16, "hi": 0.2},
      {"s": "double", "t": 12023, "lo": 0.146, "hi": 0.208},
      {"s": "double", "t": 13183, "lo": 0.15, "hi": 0.216},
      {"s": "double", "t": 14454, "lo": 0.163, "hi": 0.207},
      {"s": "double", "t": 15849, "lo": 0.157, "hi": 0.217},
      {"s": "double", "t": 17378, "lo": 0.163, "hi": 0.217},
      {"s": "double", "t": 19055, "lo": 0.167, "hi": 0.217},
      {"s": "double", "t": 20893, "lo": 0.161, "hi": 0.227},
      {"s": "double", "t": 22909, "lo": 0.174, "hi": 0.218},
      {"s": "double", "t": 25119, "lo": 0.168, "hi": 0.228},
      {"s": "double", "t": 27542, "lo": 0.164, "hi": 0.236},
      {"s": "double", "t": 30200, "lo": 0.178, "hi": 0.226},
      {"s": "double", "t": 33113, "lo": 0.171, "hi": 0.235},
      {"s": "double", "t": 36308, "lo": 0.175, "hi": 0.233},
      {"s": "double", "t": 39811, "lo": 0.178, "hi": 0.232},
      {"s": "double", "t": 43652, "lo": 0.172, "hi": 0.242},
      {"s": "double", "t": 47863, "lo": 0.187, "hi": 0.25},
      {"s": "double", "t": 48978, "lo": 0.18, "hi": 0.24},
      {"s": "ram", "t": 1000, "lo": 0.202, "hi": 0.228},
      {"s": "ram", "t": 1096, "lo": 0.187, "hi": 0.223},
      {"s": "ram", "t": 1202, "lo": 0.188, "hi": 0.208},
      {"s": "ram", "t": 1318, "lo": 0.173, "hi": 0.203},
      {"s": "ram", "t": 1445, "lo": 0.16, "hi": 0.196},
      {"s": "ram", "t": 1585, "lo": 0.16, "hi": 0.18},
      {"s": "ram", "t": 1738, "lo": 0.148, "hi": 0.178},
      {"s": "ram", "t": 1905, "lo": 0.146, "hi": 0.168},
      {"s": "ram", "t": 2089, "lo": 0.143, "hi": 0.161},
      {"s": "ram", "t": 2291, "lo": 0.134, "hi": 0.16},
      {"s": "ram", "t": 2512, "lo": 0.136, "hi": 0.15},
      {"s": "ram", "t": 2754, "lo": 0.128, "hi": 0.15},
      {"s": "ram", "t": 3020, "lo": 0.122, "hi": 0.149},
      {"s": "ram", "t": 3311, "lo": 0.122, "hi": 0.138},
      {"s": "ram", "t": 3631, "lo": 0.115, "hi": 0.137},
      {"s": "ram", "t": 3981, "lo": 0.113, "hi": 0.131},
      {"s": "ram", "t": 4365, "lo": 0.111, "hi": 0.125},
      {"s": "ram", "t": 4786, "lo": 0.104, "hi": 0.124},
      {"s": "ram", "t": 5248, "lo": 0.1045, "hi": 0.1155},
      {"s": "ram", "t": 5754, "lo": 0.097, "hi": 0.113},
      {"s": "ram", "t": 6310, "lo": 0.09, "hi": 0.11},
      {"s": "ram", "t": 6918, "lo": 0.089, "hi": 0.101},
      {"s": "ram", "t": 7586, "lo": 0.083, "hi": 0.099},
      {"s": "ram", "t": 8318, "lo": 0.082, "hi": 0.094},
      {"s": "ram", "t": 9120, "lo": 0.079, "hi": 0.089},
      {"s": "ram", "t": 10000, "lo": 0.073, "hi": 0.087},
      {"s": "ram", "t": 10965, "lo": 0.073, "hi": 0.081},
      {"s": "ram", "t": 12023, "lo": 0.068, "hi": 0.08},
      {"s": "ram", "t": 13183, "lo": 0.065, "hi": 0.078},
      {"s": "ram", "t": 14454, "lo": 0.063, "hi": 0.081},
      {"s": "ram", "t": 15849, "lo": 0.061, "hi": 0.088},
      {"s": "ram", "t": 17378, "lo": 0.066, "hi": 0.089},
      {"s": "ram", "t": 19055, "lo": 0.069, "hi": 0.09},
      {"s": "ram", "t": 20893, "lo": 0.066, "hi": 0.096},
      {"s": "ram", "t": 22909, "lo": 0.07, "hi": 0.087},
      {"s": "ram", "t": 25119, "lo": 0.065, "hi": 0.091},
      {"s": "ram", "t": 27542, "lo": 0.062, "hi": 0.095},
      {"s": "ram", "t": 30200, "lo": 0.068, "hi": 0.087},
      {"s": "ram", "t": 33113, "lo": 0.065, "hi": 0.092},
      {"s": "ram", "t": 36308, "lo": 0.068, "hi": 0.091},
      {"s": "ram", "t": 39811, "lo": 0.07, "hi": 0.091},
      {"s": "ram", "t": 43652, "lo": 0.066, "hi": 0.098},
      {"s": "ram", "t": 47863, "lo": 0.077, "hi": 0.1},
      {"s": "ram", "t": 48978, "lo": 0.075, "hi": 0.1}
    ]
  },
  "hconcat": [
    {
      "width": 1250,
      "height": 869,
      "title": {"text": "(a)", "fontSize": 63, "dx": -181.5, "dy": 43},
      "resolve": {"axis": {"x": "independent", "y": "independent"}},
      "layer": [
        {
          "data": {"name": "core"},
          "transform": [{"filter": "datum.s == 'phase'"}],
          "mark": {"type": "area", "color": "#008000"},
          "encoding": {
            "x": {"field": "t", "type": "quantitative", "scale": {"domain": [0, 50000], "nice": false, "zero": false},
              "axis": {"orient": "bottom", "values": [0, 10000, 20000, 30000, 40000, 50000], "format": ",d", "tickSize": 17, "tickWidth": 5, "labelFontSize": 49, "labelPadding": 18, "title": "time(s)", "titleFontSize": 51, "titleY": 162, "titleBaseline": "alphabetic"}},
            "y": {"field": "lo", "type": "quantitative", "scale": {"domain": [-60, 70], "nice": false, "zero": false},
              "axis": {"orient": "left", "values": [-60, -40, -20, 0, 20, 40, 60], "format": "d", "tickSize": 16, "tickWidth": 5, "labelFontSize": 49, "labelPadding": 17, "title": "Gyro output(deg/h)", "titleFontSize": 51, "titleAngle": -90, "titleX": -127, "titleY": 324, "titleBaseline": "alphabetic"}},
            "y2": {"field": "hi"}
          }
        },
        {
          "data": {"name": "spikes"},
          "transform": [{"filter": "datum.s == 'phase'"}],
          "mark": {"type": "rule", "strokeWidth": 5},
          "encoding": {
            "x": {"field": "t", "type": "quantitative", "scale": {"domain": [0, 50000], "nice": false, "zero": false},
              "axis": {"orient": "bottom", "values": [5000, 15000, 25000, 35000, 45000], "tickSize": 8, "tickWidth": 4, "labels": false, "domain": false, "title": null}},
            "y": {"field": "lo", "type": "quantitative", "scale": {"domain": [-60, 70], "nice": false, "zero": false},
              "axis": {"orient": "left", "values": [-50, -30, -10, 10, 30, 50], "tickSize": 7, "tickWidth": 4, "labels": false, "domain": false, "title": null}},
            "y2": {"field": "hi"},
            "stroke": {"field": "s", "type": "nominal",
              "scale": {"domain": ["phase", "double", "ram"], "range": ["#008000", "#0000ff", "#ff0000"]},
              "legend": {"title": null, "orient": "none", "legendX": -83.5, "legendY": -170, "symbolType": "M-2.8,0H7.4", "labelFontSize": 42, "labelOffset": 62, "rowPadding": 12, "padding": 9,
                "labelExpr": "datum.value == 'phase' ? 'Reciprocal phase modilation demodulation' : datum.value == 'double' ? 'Reciprocal modilation and double demodulation' : 'Reciprocal modilation and RAM feedback and double demodulation'"}}
          }
        },
        {
          "data": {"name": "core"},
          "transform": [{"filter": "datum.s == 'double'"}],
          "mark": {"type": "area", "color": "#0000ff"},
          "encoding": {
            "x": {"field": "t", "type": "quantitative", "scale": {"domain": [0, 50000], "nice": false, "zero": false}, "axis": null},
            "y": {"field": "lo", "type": "quantitative", "scale": {"domain": [-60, 70], "nice": false, "zero": false},
              "axis": {"orient": "right", "ticks": false, "labels": false, "title": null, "domain": true}},
            "y2": {"field": "hi"}
          }
        },
        {
          "data": {"name": "spikes"},
          "transform": [{"filter": "datum.s == 'double'"}],
          "mark": {"type": "rule", "strokeWidth": 5, "color": "#0000ff"},
          "encoding": {
            "x": {"field": "t", "type": "quantitative", "scale": {"domain": [0, 50000], "nice": false, "zero": false}, "axis": null},
            "y": {"field": "lo", "type": "quantitative", "scale": {"domain": [-60, 70], "nice": false, "zero": false}, "axis": null},
            "y2": {"field": "hi"}
          }
        },
        {
          "data": {"name": "core"},
          "transform": [{"filter": "datum.s == 'ram'"}],
          "mark": {"type": "area", "color": "#ff0000"},
          "encoding": {
            "x": {"field": "t", "type": "quantitative", "scale": {"domain": [0, 50000], "nice": false, "zero": false}, "axis": null},
            "y": {"field": "lo", "type": "quantitative", "scale": {"domain": [-60, 70], "nice": false, "zero": false}, "axis": null},
            "y2": {"field": "hi"}
          }
        },
        {
          "data": {"name": "spikes"},
          "transform": [{"filter": "datum.s == 'ram'"}],
          "mark": {"type": "rule", "strokeWidth": 5, "color": "#ff0000"},
          "encoding": {
            "x": {"field": "t", "type": "quantitative", "scale": {"domain": [0, 50000], "nice": false, "zero": false}, "axis": null},
            "y": {"field": "lo", "type": "quantitative", "scale": {"domain": [-60, 70], "nice": false, "zero": false}, "axis": null},
            "y2": {"field": "hi"}
          }
        }
      ]
    },
    {
      "width": 1200,
      "height": 895,
      "title": {"text": "(b)", "fontSize": 46, "dx": -92, "dy": -12},
      "resolve": {"axis": {"x": "independent", "y": "independent"}},
      "layer": [
        {
          "data": {"name": "band"},
          "transform": [{"filter": "datum.s == 'phase'"}],
          "mark": {"type": "area", "color": "#008000"},
          "encoding": {
            "x": {"field": "t", "type": "quantitative", "scale": {"type": "log", "domain": [0.1, 1000000], "nice": false}, "axis": null},
            "y": {"field": "lo", "type": "quantitative", "scale": {"type": "log", "domain": [0.04, 108], "nice": false}, "axis": null},
            "y2": {"field": "hi"}
          }
        },
        {
          "data": {"name": "band"},
          "transform": [{"filter": "datum.s == 'double'"}],
          "mark": {"type": "area", "color": "#0000ff"},
          "encoding": {
            "x": {"field": "t", "type": "quantitative", "scale": {"type": "log", "domain": [0.1, 1000000], "nice": false}, "axis": null},
            "y": {"field": "lo", "type": "quantitative", "scale": {"type": "log", "domain": [0.04, 108], "nice": false}, "axis": null},
            "y2": {"field": "hi"}
          }
        },
        {
          "data": {"name": "band"},
          "transform": [{"filter": "datum.s == 'ram'"}],
          "mark": {"type": "area", "color": "#ff0000"},
          "encoding": {
            "x": {"field": "t", "type": "quantitative", "scale": {"type": "log", "domain": [0.1, 1000000], "nice": false}, "axis": null},
            "y": {"field": "lo", "type": "quantitative", "scale": {"type": "log", "domain": [0.04, 108], "nice": false}, "axis": null},
            "y2": {"field": "hi"}
          }
        },
        {
          "data": {"name": "allan"},
          "mark": {"type": "line", "strokeWidth": 4.5},
          "encoding": {
            "x": {"field": "t", "type": "quantitative", "scale": {"type": "log", "domain": [0.1, 1000000], "nice": false},
              "axis": {"orient": "bottom", "values": [0.1, 1, 10, 100, 1000, 10000, 100000, 1000000],
                "labelExpr": "'10' + ['⁻¹','⁰','¹','²','³','⁴','⁵','⁶'][round(log(datum.value)/LN10)+1]",
                "tickSize": 19, "tickWidth": 5, "labelFontSize": 58, "labelPadding": 27,
                "grid": true, "gridColor": "#d4d4d4", "gridWidth": 2,
                "title": "time(s)", "titleFontSize": 50, "titleY": 138, "titleBaseline": "alphabetic"}},
            "y": {"field": "v", "type": "quantitative", "scale": {"type": "log", "domain": [0.04, 108], "nice": false},
              "axis": {"orient": "left", "values": [0.1, 1, 10], "format": "~g", "tickSize": 17, "tickWidth": 5, "labelFontSize": 57, "labelPadding": 18,
                "grid": true, "gridColor": "#d4d4d4", "gridWidth": 2,
                "title": "Allan Standard Deviation(deg/h)", "titleFontSize": 50, "titleAngle": -90, "titleX": -127, "titleY": 459, "titleBaseline": "alphabetic"}},
            "stroke": {"field": "s", "type": "nominal",
              "scale": {"domain": ["phase", "double", "ram"], "range": ["#008000", "#0000ff", "#ff0000"]},
              "legend": {"title": null, "orient": "none", "legendX": -223, "legendY": -132, "symbolType": "M-3.3,0H7.3", "labelFontSize": 50, "labelOffset": 69, "rowPadding": 12.5, "padding": 12,
                "labelExpr": "datum.value == 'phase' ? 'Reciprocal phase modilation demodulation' : datum.value == 'double' ? 'Reciprocal modilation and double demodulation' : 'Reciprocal modilation and RAM feedback and double demodulation'"}}
          }
        },
        {
          "data": {"values": [{"t0": 0.1, "t1": 450000, "v": 0.1}]},
          "mark": {"type": "rule", "color": "black", "strokeWidth": 7, "strokeDash": [33, 31]},
          "encoding": {
            "x": {"field": "t0", "type": "quantitative", "scale": {"type": "log", "domain": [0.1, 1000000], "nice": false},
              "axis": {"orient": "bottom", "values": [0.2, 0.3, 0.4, 0.5, 0.6, 0.7, 0.8, 0.9, 2, 3, 4, 5, 6, 7, 8, 9, 20, 30, 40, 50, 60, 70, 80, 90, 200, 300, 400, 500, 600, 700, 800, 900, 2000, 3000, 4000, 5000, 6000, 7000, 8000, 9000, 20000, 30000, 40000, 50000, 60000, 70000, 80000, 90000, 200000, 300000, 400000, 500000, 600000, 700000, 800000, 900000],
                "tickSize": 8, "tickWidth": 4, "labels": false, "domain": false, "title": null,
                "grid": true, "gridColor": "#e2e2e2", "gridWidth": 1.5, "gridDash": [5, 4]}},
            "x2": {"field": "t1"},
            "y": {"field": "v", "type": "quantitative", "scale": {"type": "log", "domain": [0.04, 108], "nice": false},
              "axis": {"orient": "left", "values": [0.05, 0.06, 0.07, 0.08, 0.09, 0.2, 0.3, 0.4, 0.5, 0.6, 0.7, 0.8, 0.9, 2, 3, 4, 5, 6, 7, 8, 9, 20, 30, 40, 50, 60, 70, 80, 90, 100],
                "tickSize": 9, "tickWidth": 4, "labels": false, "domain": false, "title": null,
                "grid": true, "gridColor": "#e2e2e2", "gridWidth": 1.5, "gridDash": [5, 4]}}
          }
        },
        {
          "data": {"values": [{"t": 38.3, "v": 0.1285, "label": "0.1 deg/h"}]},
          "mark": {"type": "text", "font": "Liberation Serif", "fontSize": 54, "fontWeight": "bold", "align": "center", "baseline": "alphabetic", "color": "black"},
          "encoding": {
            "x": {"field": "t", "type": "quantitative", "scale": {"type": "log", "domain": [0.1, 1000000], "nice": false}, "axis": null},
            "y": {"field": "v", "type": "quantitative", "scale": {"type": "log", "domain": [0.04, 108], "nice": false},
              "axis": {"orient": "right", "values": [0.05, 0.06, 0.07, 0.08, 0.09, 0.1, 0.2, 0.3, 0.4, 0.5, 0.6, 0.7, 0.8, 0.9, 1, 2, 3, 4, 5, 6, 7, 8, 9, 10, 20, 30, 40, 50, 60, 70, 80, 90, 100],
                "tickSize": 11, "tickWidth": 5, "labels": false, "title": null, "domain": true}},
            "text": {"field": "label"}
          }
        }
      ]
    }
  ]
}
